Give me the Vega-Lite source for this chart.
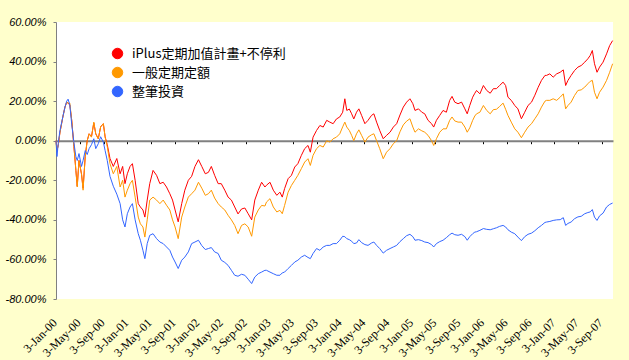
{
  "$schema": "https://vega.github.io/schema/vega-lite/v6.json",
  "autosize": {"type": "none"},
  "padding": {"left": 56, "top": 22, "right": 16, "bottom": 61},
  "width": 557,
  "height": 277,
  "background": "#FFFFCC",
  "config": {"view": {"stroke": null, "fill": "white"}},
  "data": {"values": [
    {"d":"2000-01-03","r":0,"o":0,"b":0},
    {"d":"2000-01-08","r":-5,"o":-5,"b":-8},
    {"d":"2000-01-15","r":-2,"o":-2,"b":-1},
    {"d":"2000-01-23","r":4,"o":4,"b":5},
    {"d":"2000-02-07","r":12,"o":12,"b":12},
    {"d":"2000-02-18","r":17,"o":17,"b":17},
    {"d":"2000-02-27","r":19.5,"o":19.5,"b":20},
    {"d":"2000-03-05","r":19,"o":19,"b":21},
    {"d":"2000-03-14","r":18,"o":19,"b":18},
    {"d":"2000-03-24","r":10,"o":10,"b":8},
    {"d":"2000-04-04","r":-3,"o":-3,"b":-1},
    {"d":"2000-04-14","r":-15,"o":-15,"b":-8},
    {"d":"2000-04-21","r":-23,"o":-23.4,"b":-10},
    {"d":"2000-04-30","r":-10,"o":-10,"b":-6.5},
    {"d":"2000-05-13","r":-17,"o":-16.7,"b":-13},
    {"d":"2000-05-21","r":-24,"o":-25,"b":-10},
    {"d":"2000-06-01","r":-8,"o":-8,"b":-5},
    {"d":"2000-06-11","r":0,"o":0,"b":-7},
    {"d":"2000-06-21","r":3.5,"o":3.5,"b":-4},
    {"d":"2000-07-03","r":2,"o":1.8,"b":-2},
    {"d":"2000-07-15","r":9,"o":9.4,"b":1},
    {"d":"2000-07-25","r":3.5,"o":3.5,"b":-4},
    {"d":"2000-08-07","r":1,"o":1,"b":-1.5},
    {"d":"2000-08-19","r":7,"o":7,"b":2},
    {"d":"2000-09-02","r":8.6,"o":8.6,"b":-0.7},
    {"d":"2000-09-11","r":2,"o":1.8,"b":-5},
    {"d":"2000-09-22","r":-2,"o":-3,"b":-10},
    {"d":"2000-10-06","r":-9,"o":-11.6,"b":-18},
    {"d":"2000-10-23","r":-13,"o":-16.7,"b":-23},
    {"d":"2000-11-10","r":-9,"o":-13,"b":-27},
    {"d":"2000-11-27","r":-16.7,"o":-23.4,"b":-31.8},
    {"d":"2000-12-10","r":-13,"o":-20,"b":-40},
    {"d":"2000-12-22","r":-21.7,"o":-28.5,"b":-43.6},
    {"d":"2001-01-03","r":-16.7,"o":-25,"b":-36.9},
    {"d":"2001-01-17","r":-13,"o":-21.7,"b":-33.5},
    {"d":"2001-01-29","r":-11.6,"o":-20,"b":-31.8},
    {"d":"2001-02-12","r":-20,"o":-28.5,"b":-40},
    {"d":"2001-02-28","r":-31.8,"o":-38.6,"b":-47},
    {"d":"2001-03-11","r":-33.5,"o":-42,"b":-50.3},
    {"d":"2001-03-24","r":-35,"o":-43.6,"b":-55.4},
    {"d":"2001-04-03","r":-38.6,"o":-48.7,"b":-59.6},
    {"d":"2001-04-15","r":-30,"o":-40,"b":-52},
    {"d":"2001-04-28","r":-21.7,"o":-30,"b":-47.8},
    {"d":"2001-05-15","r":-15,"o":-28.5,"b":-47},
    {"d":"2001-06-02","r":-17.5,"o":-30,"b":-49.5},
    {"d":"2001-06-19","r":-21.7,"o":-31.8,"b":-51.2},
    {"d":"2001-07-06","r":-21,"o":-30,"b":-52},
    {"d":"2001-07-23","r":-23.4,"o":-32.6,"b":-53.7},
    {"d":"2001-08-09","r":-26.8,"o":-35,"b":-55.4},
    {"d":"2001-08-23","r":-30,"o":-40,"b":-58.8},
    {"d":"2001-09-05","r":-35,"o":-43.6,"b":-61.3},
    {"d":"2001-09-21","r":-41,"o":-49.5,"b":-64.6},
    {"d":"2001-10-09","r":-31.8,"o":-38.6,"b":-60.4},
    {"d":"2001-10-25","r":-25,"o":-33.5,"b":-58.8},
    {"d":"2001-11-12","r":-20,"o":-28.5,"b":-56.2},
    {"d":"2001-11-29","r":-18,"o":-26.8,"b":-52},
    {"d":"2001-12-16","r":-13,"o":-25,"b":-51.2},
    {"d":"2002-01-03","r":-9.6,"o":-21,"b":-50.3},
    {"d":"2002-01-20","r":-13,"o":-24,"b":-53},
    {"d":"2002-02-07","r":-16.7,"o":-27.6,"b":-55},
    {"d":"2002-02-23","r":-16,"o":-26.8,"b":-54.5},
    {"d":"2002-03-10","r":-13,"o":-25,"b":-54},
    {"d":"2002-03-27","r":-17.5,"o":-29,"b":-56.2},
    {"d":"2002-04-14","r":-21.7,"o":-31.8,"b":-57},
    {"d":"2002-04-30","r":-21.7,"o":-33.5,"b":-60.4},
    {"d":"2002-05-18","r":-25,"o":-35,"b":-61.5},
    {"d":"2002-06-04","r":-28.5,"o":-37.7,"b":-63},
    {"d":"2002-06-21","r":-30,"o":-40,"b":-65.5},
    {"d":"2002-07-08","r":-33.5,"o":-42.8,"b":-68},
    {"d":"2002-07-25","r":-37,"o":-47,"b":-68.5},
    {"d":"2002-08-12","r":-34.5,"o":-42.8,"b":-67.5},
    {"d":"2002-08-29","r":-34,"o":-42,"b":-68},
    {"d":"2002-09-15","r":-36.9,"o":-43.6,"b":-70},
    {"d":"2002-10-03","r":-40,"o":-48.3,"b":-72.2},
    {"d":"2002-10-19","r":-30,"o":-38.6,"b":-68.9},
    {"d":"2002-11-06","r":-25,"o":-35,"b":-67.2},
    {"d":"2002-11-23","r":-21,"o":-32.7,"b":-66.4},
    {"d":"2002-12-10","r":-23.4,"o":-33,"b":-65.5},
    {"d":"2002-12-18","r":-22.5,"o":-31,"b":-65.5},
    {"d":"2003-01-05","r":-21,"o":-29.3,"b":-66.4},
    {"d":"2003-01-22","r":-25,"o":-33.5,"b":-67.2},
    {"d":"2003-02-09","r":-27.6,"o":-36,"b":-68},
    {"d":"2003-02-25","r":-26,"o":-35.2,"b":-68},
    {"d":"2003-03-09","r":-28.5,"o":-36.9,"b":-66.8},
    {"d":"2003-03-21","r":-24.2,"o":-32.7,"b":-66.4},
    {"d":"2003-04-08","r":-19.2,"o":-26,"b":-64.6},
    {"d":"2003-04-25","r":-17.5,"o":-22.6,"b":-63},
    {"d":"2003-05-12","r":-13.3,"o":-20,"b":-61.3},
    {"d":"2003-05-28","r":-11.6,"o":-17.5,"b":-60.4},
    {"d":"2003-06-15","r":-7.4,"o":-14.1,"b":-58.8},
    {"d":"2003-07-02","r":-4,"o":-10.8,"b":-57.9},
    {"d":"2003-07-19","r":-2.4,"o":-9.1,"b":-59},
    {"d":"2003-07-31","r":-5.8,"o":-12.5,"b":-59.6},
    {"d":"2003-08-14","r":1.8,"o":-7.4,"b":-57},
    {"d":"2003-09-01","r":5.2,"o":-4,"b":-54.5},
    {"d":"2003-09-18","r":7.7,"o":-2.4,"b":-55.4},
    {"d":"2003-10-05","r":6.9,"o":-3.2,"b":-53.7},
    {"d":"2003-10-23","r":10.3,"o":0,"b":-52.9},
    {"d":"2003-11-08","r":9.4,"o":-0.7,"b":-52.9},
    {"d":"2003-11-25","r":8.6,"o":1,"b":-52},
    {"d":"2003-12-12","r":11,"o":1.8,"b":-52},
    {"d":"2003-12-29","r":12,"o":3.5,"b":-50.3},
    {"d":"2004-01-13","r":14.4,"o":7,"b":-48.3},
    {"d":"2004-01-24","r":21.2,"o":9.4,"b":-48.5},
    {"d":"2004-02-03","r":15.3,"o":6.9,"b":-49.5},
    {"d":"2004-02-16","r":16,"o":5.2,"b":-50},
    {"d":"2004-02-28","r":13.6,"o":2.7,"b":-50.8},
    {"d":"2004-03-10","r":11,"o":0,"b":-52},
    {"d":"2004-03-24","r":14.4,"o":3.5,"b":-51.7},
    {"d":"2004-04-05","r":16.1,"o":5.5,"b":-50},
    {"d":"2004-04-19","r":12.8,"o":2.7,"b":-51.5},
    {"d":"2004-05-06","r":8.6,"o":-0.7,"b":-52.5},
    {"d":"2004-05-22","r":10.3,"o":1.8,"b":-52.9},
    {"d":"2004-06-09","r":12.8,"o":3,"b":-51.7},
    {"d":"2004-06-21","r":13.6,"o":3.5,"b":-51.2},
    {"d":"2004-07-05","r":9.4,"o":0,"b":-52.9},
    {"d":"2004-07-21","r":5.2,"o":-4,"b":-54.5},
    {"d":"2004-08-08","r":1,"o":-9.1,"b":-56.8},
    {"d":"2004-08-25","r":2.7,"o":-5.8,"b":-55.4},
    {"d":"2004-09-12","r":4.3,"o":-4,"b":-54.5},
    {"d":"2004-09-29","r":6.9,"o":-1.5,"b":-53.7},
    {"d":"2004-10-16","r":8.6,"o":0,"b":-52.9},
    {"d":"2004-11-02","r":13,"o":4.5,"b":-51},
    {"d":"2004-11-19","r":17,"o":8,"b":-49.5},
    {"d":"2004-12-06","r":19.5,"o":9.9,"b":-48},
    {"d":"2004-12-23","r":21.2,"o":11.1,"b":-47.3},
    {"d":"2005-01-07","r":18.7,"o":6.9,"b":-48.5},
    {"d":"2005-01-18","r":15.3,"o":4.3,"b":-50.3},
    {"d":"2005-02-05","r":16.1,"o":6,"b":-50},
    {"d":"2005-02-22","r":14.4,"o":5,"b":-50.5},
    {"d":"2005-03-09","r":13.6,"o":4.3,"b":-51.2},
    {"d":"2005-03-26","r":10.3,"o":2.7,"b":-51.5},
    {"d":"2005-04-13","r":8.6,"o":0,"b":-52.5},
    {"d":"2005-04-24","r":6.9,"o":-2.4,"b":-53.7},
    {"d":"2005-05-08","r":10.3,"o":1,"b":-52},
    {"d":"2005-05-25","r":12.8,"o":4.3,"b":-51},
    {"d":"2005-06-11","r":15.3,"o":6,"b":-50.3},
    {"d":"2005-06-28","r":14.4,"o":6,"b":-49},
    {"d":"2005-07-15","r":20.4,"o":10.3,"b":-47.5},
    {"d":"2005-07-27","r":22.4,"o":12,"b":-46.7},
    {"d":"2005-08-10","r":19.5,"o":10,"b":-47.5},
    {"d":"2005-08-27","r":18.7,"o":9.4,"b":-47.8},
    {"d":"2005-09-14","r":19.5,"o":9.4,"b":-47.3},
    {"d":"2005-10-01","r":16.1,"o":6.9,"b":-48.5},
    {"d":"2005-10-13","r":13.6,"o":4.3,"b":-50.3},
    {"d":"2005-10-26","r":17.8,"o":6.5,"b":-48.5},
    {"d":"2005-11-10","r":22,"o":10.3,"b":-47},
    {"d":"2005-11-21","r":24,"o":12.5,"b":-46.2},
    {"d":"2005-11-30","r":25.4,"o":13.6,"b":-46},
    {"d":"2005-12-17","r":23.7,"o":14.4,"b":-45.3},
    {"d":"2006-01-04","r":27.9,"o":17.8,"b":-44.4},
    {"d":"2006-01-21","r":25.4,"o":15.3,"b":-44.8},
    {"d":"2006-02-08","r":24,"o":13.6,"b":-45},
    {"d":"2006-02-24","r":26.3,"o":15.7,"b":-44.5},
    {"d":"2006-03-12","r":26.3,"o":15.9,"b":-44},
    {"d":"2006-03-28","r":27.9,"o":17.3,"b":-43.3},
    {"d":"2006-04-15","r":29.6,"o":19,"b":-42.8},
    {"d":"2006-04-28","r":27.9,"o":15.9,"b":-43.6},
    {"d":"2006-05-10","r":22,"o":12.8,"b":-45},
    {"d":"2006-05-27","r":20.4,"o":9.4,"b":-46.2},
    {"d":"2006-06-14","r":17.8,"o":6,"b":-47},
    {"d":"2006-06-30","r":16.1,"o":4.3,"b":-48.7},
    {"d":"2006-07-18","r":11.1,"o":1.5,"b":-50.5},
    {"d":"2006-08-04","r":14.4,"o":4.3,"b":-48.5},
    {"d":"2006-08-21","r":17.8,"o":6.9,"b":-47.3},
    {"d":"2006-09-08","r":19.5,"o":8.6,"b":-46.7},
    {"d":"2006-09-25","r":23,"o":11.1,"b":-45.5},
    {"d":"2006-10-12","r":27,"o":13.6,"b":-44},
    {"d":"2006-10-29","r":30.5,"o":17,"b":-42.8},
    {"d":"2006-11-16","r":33,"o":20,"b":-41.3},
    {"d":"2006-11-24","r":33,"o":20.4,"b":-41.1},
    {"d":"2006-12-11","r":33.8,"o":20.4,"b":-40.8},
    {"d":"2006-12-28","r":32.1,"o":21.2,"b":-40.3},
    {"d":"2007-01-15","r":33.8,"o":20.4,"b":-40},
    {"d":"2007-02-02","r":34.6,"o":22,"b":-39.9},
    {"d":"2007-02-18","r":35.8,"o":23.7,"b":-38.9},
    {"d":"2007-03-02","r":27.9,"o":16.1,"b":-42.8},
    {"d":"2007-03-14","r":30.5,"o":17.8,"b":-41.8},
    {"d":"2007-03-30","r":33,"o":19.5,"b":-41.1},
    {"d":"2007-04-17","r":35.5,"o":22.9,"b":-39.4},
    {"d":"2007-05-04","r":37.2,"o":25.4,"b":-38.5},
    {"d":"2007-05-21","r":38,"o":25.7,"b":-38.2},
    {"d":"2007-06-08","r":39.7,"o":27.1,"b":-36.9},
    {"d":"2007-06-24","r":41.4,"o":28.8,"b":-36.3},
    {"d":"2007-07-06","r":43.1,"o":30,"b":-36},
    {"d":"2007-07-17","r":45.6,"o":30.5,"b":-34.8},
    {"d":"2007-07-28","r":38.9,"o":24.5,"b":-38.6},
    {"d":"2007-08-10","r":34.6,"o":21.2,"b":-40.3},
    {"d":"2007-08-23","r":37.2,"o":24.5,"b":-38},
    {"d":"2007-09-10","r":39.7,"o":27.1,"b":-36.6},
    {"d":"2007-09-28","r":43.9,"o":30.5,"b":-33.5},
    {"d":"2007-10-14","r":48.1,"o":34.6,"b":-32.2},
    {"d":"2007-10-29","r":50.6,"o":38.9,"b":-31.5}
  ]},
  "transform": [{"fold": ["r", "o", "b"], "as": ["s", "v"]}],
  "mark": {"type": "line", "strokeWidth": 1, "interpolate": "linear"},
  "encoding": {
    "x": {
      "field": "d", "type": "temporal",
      "scale": {"type": "utc", "domain": [{"year": 2000, "month": 1, "date": 3, "utc": true}, {"year": 2007, "month": 10, "date": 31, "utc": true}]},
      "axis": {
        "title": null, "orient": "bottom", "offset": -158.3,
        "values": [
          {"year":2000,"month":1,"date":3,"utc":true},{"year":2000,"month":5,"date":3,"utc":true},{"year":2000,"month":9,"date":3,"utc":true},
          {"year":2001,"month":1,"date":3,"utc":true},{"year":2001,"month":5,"date":3,"utc":true},{"year":2001,"month":9,"date":3,"utc":true},
          {"year":2002,"month":1,"date":3,"utc":true},{"year":2002,"month":5,"date":3,"utc":true},{"year":2002,"month":9,"date":3,"utc":true},
          {"year":2003,"month":1,"date":3,"utc":true},{"year":2003,"month":5,"date":3,"utc":true},{"year":2003,"month":9,"date":3,"utc":true},
          {"year":2004,"month":1,"date":3,"utc":true},{"year":2004,"month":5,"date":3,"utc":true},{"year":2004,"month":9,"date":3,"utc":true},
          {"year":2005,"month":1,"date":3,"utc":true},{"year":2005,"month":5,"date":3,"utc":true},{"year":2005,"month":9,"date":3,"utc":true},
          {"year":2006,"month":1,"date":3,"utc":true},{"year":2006,"month":5,"date":3,"utc":true},{"year":2006,"month":9,"date":3,"utc":true},
          {"year":2007,"month":1,"date":3,"utc":true},{"year":2007,"month":5,"date":3,"utc":true},{"year":2007,"month":9,"date":3,"utc":true}
        ],
        "labelExpr": "utcFormat(datum.value, '%-d-%b-%y')",
        "labelAngle": -45,
        "labelFont": "Liberation Serif", "labelFontSize": 12, "labelColor": "#000000",
        "labelPadding": 173, "labelOffset": -5, "labelOverlap": false, "labelFlush": false, "labelBound": false,
        "domainColor": "#808080", "domainWidth": 2,
        "tickColor": "#000000", "tickSize": 3, "tickWidth": 1,
        "grid": false
      }
    },
    "y": {
      "field": "v", "type": "quantitative",
      "scale": {"domain": [-80, 60], "nice": false},
      "axis": {
        "title": null,
        "values": [-80, -60, -40, -20, 0, 20, 40, 60],
        "labelExpr": "replace(format(datum.value, '.2f'), '\u2212', '-') + '%'",
        "labelFont": "Liberation Sans", "labelFontStyle": "italic", "labelFontSize": 11, "labelColor": "#000000",
        "labelPadding": 7,
        "domainColor": "#808080", "domainWidth": 1,
        "tickColor": "#808080", "tickSize": 3,
        "grid": false
      }
    },
    "color": {
      "field": "s", "type": "nominal",
      "scale": {"domain": ["r", "o", "b"], "range": ["#FF0000", "#FF9900", "#3366FF"]},
      "legend": {
        "title": null, "orient": "none", "legendX": 55, "legendY": 25, "padding": 0,
        "labelExpr": "datum.label == 'r' ? 'iPlus定期加值計畫+不停利' : datum.label == 'o' ? '一般定期定額' : '整筆投資'",
        "symbolType": "circle", "symbolSize": 110, "symbolStrokeWidth": 1,
        "labelFont": "Noto Sans CJK TC", "labelFontSize": 13, "labelColor": "#000000",
        "labelOffset": 8, "rowPadding": 4,
        "encode": {"symbols": {"update": {"fill": {"scale": "color", "field": "value"}, "stroke": {"value": "#666666"}, "fillOpacity": {"value": 1}}}}
      }
    }
  }
}
